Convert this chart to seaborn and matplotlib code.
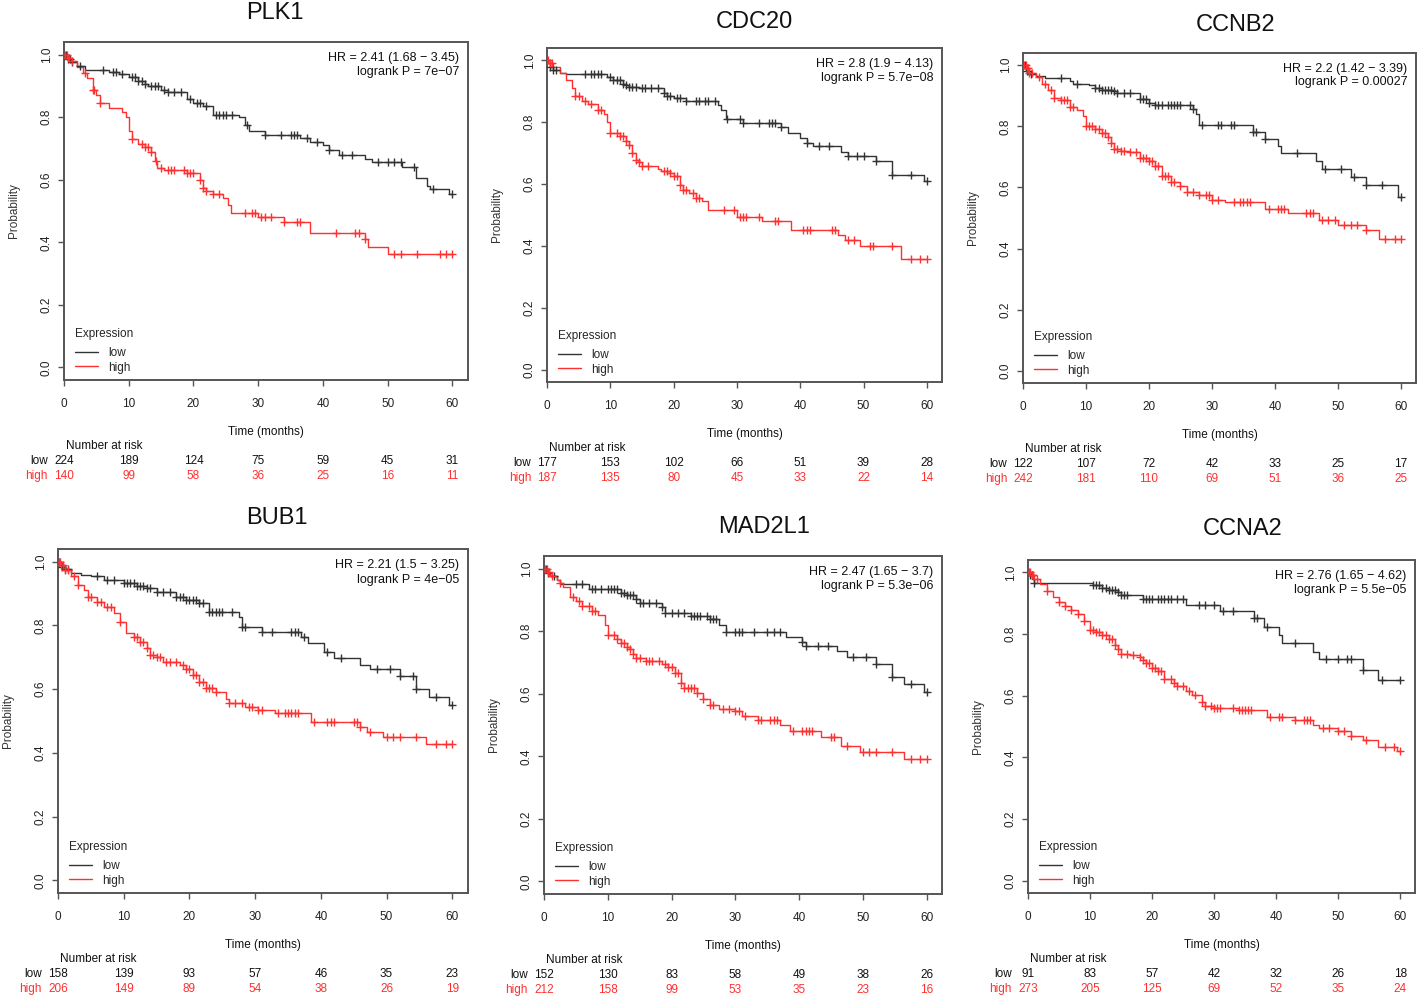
import numpy as np
import matplotlib
matplotlib.use("Agg")
import matplotlib.pyplot as plt
import seaborn as sns

# ---- data ----
genes = ["PLK1", "CDC20", "CCNB2", "BUB1", "MAD2L1", "CCNA2"]
hr_lines = ["HR = 2.41 (1.68 \u2212 3.45)", "HR = 2.8 (1.9 \u2212 4.13)", "HR = 2.2 (1.42 \u2212 3.39)",
            "HR = 2.21 (1.5 \u2212 3.25)", "HR = 2.47 (1.65 \u2212 3.7)", "HR = 2.76 (1.65 \u2212 4.62)"]
p_lines = ["logrank P = 7e\u221207", "logrank P = 5.7e\u221208", "logrank P = 0.00027",
           "logrank P = 4e\u221205", "logrank P = 5.3e\u221206", "logrank P = 5.5e\u221205"]
risk_times = [0, 10, 20, 30, 40, 50, 60]

# number at risk
plk1_risk_low = [224, 189, 124, 75, 59, 45, 31]
plk1_risk_high = [140, 99, 58, 36, 25, 16, 11]
cdc20_risk_low = [177, 153, 102, 66, 51, 39, 28]
cdc20_risk_high = [187, 135, 80, 45, 33, 22, 14]
ccnb2_risk_low = [122, 107, 72, 42, 33, 25, 17]
ccnb2_risk_high = [242, 181, 110, 69, 51, 36, 25]
bub1_risk_low = [158, 139, 93, 57, 46, 35, 23]
bub1_risk_high = [206, 149, 89, 54, 38, 26, 19]
mad2l1_risk_low = [152, 130, 83, 58, 49, 38, 26]
mad2l1_risk_high = [212, 158, 99, 53, 35, 23, 16]
ccna2_risk_low = [91, 83, 57, 42, 32, 26, 18]
ccna2_risk_high = [273, 205, 125, 69, 52, 35, 24]

# survival steps (time, probability after step) and censoring times
plk1_low_t = [0, 0.5, 1, 2, 3.3, 7, 8.5, 10, 11.5, 12.5, 13, 15, 16, 19, 20, 21.5, 23, 27, 28, 28.5, 31,
              36.5, 38, 40, 41, 42.5, 46.5, 47.5, 52.2, 54.3, 56, 56.5, 59.5]
plk1_low_s = [1.0, 0.985, 0.975, 0.962, 0.952, 0.945, 0.937, 0.929, 0.915, 0.905, 0.9, 0.888, 0.88, 0.858,
              0.845, 0.835, 0.808, 0.8, 0.776, 0.755, 0.744, 0.733, 0.72, 0.71, 0.696, 0.68, 0.666, 0.655,
              0.64, 0.605, 0.579, 0.57, 0.554]
plk1_low_c = [0.3, 0.6, 0.9, 1.3, 2.5, 6, 7.5, 8, 9, 10.5, 11, 11.5, 12, 12.5, 13.5, 14, 14.5, 15.5, 16, 17,
              18, 19.5, 20.5, 21, 22, 23.5, 24, 24.5, 25, 26, 28.3, 31, 33.5, 35, 35.5, 36, 37.5, 39, 41,
              43, 44.5, 48.5, 50, 51, 52, 54, 57, 60]
plk1_high_t = [0, 0.5, 1, 2, 3, 3.5, 4.5, 5, 5.5, 7, 9, 9.5, 10, 10.5, 11.5, 12.5, 13.5, 14, 14.3, 15.5, 19,
               21, 21.5, 22, 23, 24.5, 25.3, 25.8, 30, 34, 38, 46.5, 47, 50]
plk1_high_s = [1.0, 0.99, 0.98, 0.96, 0.94, 0.925, 0.888, 0.872, 0.845, 0.83, 0.815, 0.8, 0.755, 0.73, 0.715,
               0.705, 0.69, 0.66, 0.638, 0.63, 0.62, 0.6, 0.575, 0.565, 0.555, 0.54, 0.52, 0.495, 0.48,
               0.466, 0.43, 0.41, 0.385, 0.362]
plk1_high_c = [0.2, 0.4, 0.6, 0.8, 1.2, 3.2, 4.5, 4.7, 5.5, 10.5, 12, 12.5, 13, 13.5, 14.2, 15, 16, 16.5,
               17, 18.5, 19, 19.5, 20, 21, 21.5, 22, 23, 24, 28, 29, 29.5, 30.5, 31, 32, 34, 36, 36.5, 42,
               45, 45.5, 46.5, 51, 52, 54.5, 58, 59, 60]

cdc20_low_t = [0, 0.5, 1, 2, 3, 9.5, 10.5, 12, 12.5, 13, 14.5, 18.5, 19, 20, 22, 27, 27.5, 28.3, 31, 37,
               38, 40, 41, 42, 46.5, 47.5, 52, 54.5, 59.5]
cdc20_low_s = [1.0, 0.98, 0.97, 0.96, 0.955, 0.945, 0.935, 0.925, 0.919, 0.915, 0.91, 0.895, 0.885, 0.878,
               0.868, 0.855, 0.84, 0.812, 0.797, 0.785, 0.765, 0.75, 0.733, 0.722, 0.705, 0.69, 0.675,
               0.63, 0.609]
cdc20_low_c = [0.5, 1, 1.5, 6, 7, 7.5, 8, 8.5, 10, 10.5, 11, 11.5, 12, 12.5, 13, 13.5, 14, 15, 15.5, 16.5,
               17.5, 18.5, 19, 19.5, 20.5, 21, 22, 23.5, 24, 25, 25.5, 26.5, 28.5, 30.5, 31, 33.5, 35,
               35.5, 36, 37, 41, 43, 44.5, 47.5, 49, 50, 52, 54.5, 57.5, 60]
cdc20_high_t = [0, 0.5, 1, 2, 3, 4, 4.5, 5.5, 6.5, 8, 9, 9.5, 10, 11.5, 12.5, 13, 13.5, 14, 14.5, 15, 17.5,
                18, 19.5, 20, 21, 21.5, 22.5, 23.5, 24.5, 25.5, 30, 34, 38.5, 46, 47, 49.5, 56]
cdc20_high_s = [1.0, 0.99, 0.98, 0.96, 0.938, 0.91, 0.884, 0.87, 0.86, 0.841, 0.825, 0.8, 0.765, 0.755,
                0.74, 0.725, 0.7, 0.677, 0.67, 0.66, 0.65, 0.641, 0.635, 0.625, 0.598, 0.58, 0.57, 0.555,
                0.544, 0.515, 0.493, 0.48, 0.452, 0.435, 0.419, 0.4, 0.357]
cdc20_high_c = [0.2, 0.5, 0.8, 4.5, 5, 6, 7, 8, 8.5, 10, 11, 11.5, 12, 12.5, 13, 13.5, 14, 14.5, 15, 16,
                18.5, 19, 19.5, 20, 20.5, 21, 21.5, 22, 23, 23.5, 24, 28, 29.5, 30.5, 31, 31.5, 33.5, 36,
                36.5, 40.5, 41, 41.5, 45, 45.5, 47.5, 48.5, 51, 51.5, 54.5, 57.5, 59, 60]

ccnb2_low_t = [0, 0.5, 1, 2, 3.5, 7.5, 8, 10.5, 11.5, 12.5, 14.5, 15, 18.5, 20, 21, 27, 27.5, 28, 36.5,
               38.5, 40.5, 41, 46.5, 47.5, 52, 54.5, 59.5]
ccnb2_low_s = [1.0, 0.98, 0.97, 0.965, 0.958, 0.95, 0.94, 0.935, 0.925, 0.92, 0.915, 0.91, 0.891, 0.875,
               0.87, 0.856, 0.839, 0.804, 0.782, 0.76, 0.735, 0.714, 0.687, 0.662, 0.635, 0.607, 0.57]
ccnb2_low_c = [0.3, 0.7, 1.2, 6, 8.5, 11.5, 12, 12.5, 13, 13.5, 14, 14.5, 15, 16, 17, 18.5, 19, 19.5, 20,
               21, 21.5, 22, 23, 23.5, 24, 24.5, 25, 26.5, 27, 28.5, 31, 31.5, 33, 33.5, 36.5, 37, 38.5,
               43.5, 48, 50.5, 52.5, 54.5, 57, 60]
ccnb2_high_t = [0, 0.5, 1, 2, 3, 4, 5, 6, 7.5, 8.5, 9.5, 10, 11.5, 12.5, 13.5, 14, 14.5, 15.5, 17, 18.5,
                20, 21, 22, 23.5, 25, 26, 28, 30, 32, 38.5, 42, 47, 50, 54.5, 56.5]
ccnb2_high_s = [1.0, 0.99, 0.975, 0.96, 0.938, 0.92, 0.894, 0.885, 0.863, 0.855, 0.834, 0.8, 0.79, 0.779,
                0.765, 0.745, 0.725, 0.72, 0.715, 0.697, 0.686, 0.67, 0.637, 0.617, 0.604, 0.585, 0.575,
                0.558, 0.553, 0.53, 0.515, 0.493, 0.477, 0.462, 0.43]
ccnb2_high_c = [0.2, 0.4, 0.6, 0.8, 1, 1.5, 2.5, 3.5, 4.5, 5, 6, 6.5, 7, 7.5, 8, 10, 10.5, 11, 11.5, 12,
                12.5, 13, 13.5, 14, 14.5, 15, 15.5, 16, 17, 18, 18.5, 19, 19.5, 20, 20.5, 21, 21.5, 22,
                22.5, 23, 23.5, 24, 25, 26, 27, 28, 29, 29.5, 30, 31, 33.5, 34.5, 35, 35.5, 36, 39, 40.5,
                41, 41.5, 45, 45.5, 46, 47.5, 48.5, 49.5, 51, 52, 53, 54.5, 57.5, 59, 60]

bub1_low_t = [0, 0.5, 1, 2, 3.5, 5, 7, 10, 12, 13.5, 15, 18, 19.5, 21.5, 23, 27.5, 28, 31, 37, 38, 40.5,
              42, 46, 47.5, 52, 54.5, 56.5, 59.5]
bub1_low_s = [1.0, 0.985, 0.976, 0.965, 0.958, 0.955, 0.942, 0.934, 0.925, 0.916, 0.906, 0.89, 0.88,
              0.87, 0.843, 0.825, 0.794, 0.78, 0.765, 0.746, 0.718, 0.697, 0.675, 0.662, 0.64, 0.599,
              0.575, 0.55]
bub1_low_c = [0.2, 0.6, 1, 1.5, 6, 7.5, 8.5, 10, 10.5, 11, 11.5, 12, 12.5, 13, 13.5, 14, 15, 16, 17, 18,
              18.5, 19, 19.5, 20, 20.5, 21, 21.5, 22, 23, 23.5, 24, 24.5, 25, 26.5, 28, 28.5, 31, 32.5,
              35.5, 36, 36.5, 37.5, 41, 43, 48.5, 50.5, 52, 54, 54.5, 57.5, 60]
bub1_high_t = [0, 0.5, 1, 2, 3, 4, 4.5, 6, 7, 8.5, 9.5, 10.3, 11.5, 12.5, 13.5, 14, 15, 16, 18.5, 19.5,
               20.5, 21.5, 22.5, 24, 25.5, 26, 28.5, 30.5, 33, 38.5, 46, 47, 49.5, 56]
bub1_high_s = [1.0, 0.99, 0.975, 0.955, 0.927, 0.91, 0.89, 0.875, 0.859, 0.838, 0.812, 0.777, 0.765,
               0.749, 0.73, 0.707, 0.7, 0.686, 0.675, 0.662, 0.645, 0.623, 0.605, 0.59, 0.57, 0.556,
               0.543, 0.535, 0.524, 0.498, 0.48, 0.464, 0.449, 0.428]
bub1_high_c = [0.1, 0.3, 0.5, 0.7, 1, 1.5, 2.5, 3, 4.5, 5, 6, 6.5, 7.5, 8, 9.5, 11.5, 12, 12.5, 13, 13.5,
               14, 14.5, 15, 15.5, 16.5, 17, 18, 19, 19.5, 20, 20.5, 21, 21.5, 22, 22.5, 23, 23.5, 24, 26,
               27, 28, 29, 29.5, 30.5, 31, 33.5, 34.5, 35, 35.5, 36, 36.5, 39, 41, 41.5, 42, 45, 45.5, 46,
               47.5, 50, 51, 52, 54.5, 57.5, 59, 60]

mad2l1_low_t = [0, 0.5, 1, 2, 2.5, 7, 12, 13, 14.5, 15, 18.5, 19, 23, 26, 27.5, 28.5, 38, 40.5, 41, 46,
                47.5, 52, 54.5, 56.5, 59.5]
mad2l1_low_s = [1.0, 0.985, 0.975, 0.963, 0.952, 0.936, 0.922, 0.915, 0.904, 0.889, 0.878, 0.859, 0.848,
                0.838, 0.82, 0.798, 0.782, 0.765, 0.753, 0.735, 0.717, 0.695, 0.652, 0.632, 0.604]
mad2l1_low_c = [0.3, 0.7, 1.5, 5, 6, 7.5, 8, 9, 10, 10.5, 11, 11.5, 12, 12.5, 13, 13.5, 14, 14.5, 15, 15.5,
                16.5, 17.5, 18.5, 19, 20, 21, 22, 23, 23.5, 24, 24.5, 25.5, 26, 26.5, 27, 28.5, 30, 30.5,
                31, 33, 35, 36, 37, 40.5, 41, 43, 44.5, 48.5, 50.5, 52, 54.5, 57.5, 60]
mad2l1_high_t = [0, 0.5, 1, 2, 2.5, 3, 4, 5, 6, 7.5, 8.5, 9.5, 10, 11.5, 12, 13, 13.5, 14, 14.5, 16, 18.5,
                 19.5, 20.5, 21.5, 22, 24, 25, 26, 27.5, 30, 31, 33.5, 37, 38.5, 43.5, 46.5, 49.5, 56.5]
mad2l1_high_s = [1.0, 0.99, 0.975, 0.963, 0.955, 0.94, 0.91, 0.895, 0.88, 0.865, 0.851, 0.82, 0.788,
                 0.775, 0.763, 0.75, 0.742, 0.728, 0.714, 0.705, 0.695, 0.685, 0.666, 0.634, 0.618, 0.602,
                 0.583, 0.565, 0.551, 0.544, 0.528, 0.517, 0.499, 0.48, 0.462, 0.432, 0.413, 0.392]
mad2l1_high_c = [0.2, 0.4, 0.6, 0.8, 1.2, 2.5, 4.5, 5.5, 6, 7, 7.5, 8, 10, 11, 11.5, 12, 12.5, 13, 13.5,
                 14, 14.5, 15, 16, 16.5, 17, 18, 19, 19.5, 20, 20.5, 21, 21.5, 22, 22.5, 23, 23.5, 24, 25,
                 26, 26.5, 28, 29, 30, 30.5, 31.5, 33.5, 34, 35.5, 36, 36.5, 39, 40.5, 41, 41.5, 42, 45,
                 45.5, 47.5, 50, 51, 52, 54.5, 57.5, 59, 60]

ccna2_low_t = [0, 0.3, 0.7, 1, 10.5, 12, 13, 14.5, 15, 18.5, 25.5, 31, 36.5, 38, 40.5, 41, 46, 47, 54, 56.5]
ccna2_low_s = [1.0, 0.99, 0.98, 0.966, 0.959, 0.95, 0.944, 0.935, 0.926, 0.913, 0.894, 0.875, 0.851,
               0.824, 0.797, 0.772, 0.743, 0.718, 0.684, 0.651]
ccna2_low_c = [0.3, 0.6, 1, 10.5, 11, 11.5, 12, 12.5, 13, 13.5, 14, 14.5, 15, 15.5, 16, 18.5, 19, 19.5,
               20, 21, 21.5, 22, 22.5, 23, 24, 25, 27.5, 28.5, 30, 31.5, 33, 36.5, 37, 38.5, 43, 48, 50,
               51.5, 52, 54, 57, 60]
ccna2_high_t = [0, 0.5, 1, 2, 3, 4, 5, 6, 7, 8, 9, 10, 11, 12, 13, 14, 14.5, 15, 16.5, 18, 18.5, 19, 20,
                21, 22, 23.5, 24, 25.5, 26.5, 28, 28.5, 30, 34, 38.5, 43, 46, 47, 50, 52, 54, 56.5, 59.5]
ccna2_high_s = [1.0, 0.99, 0.98, 0.962, 0.94, 0.921, 0.905, 0.89, 0.878, 0.865, 0.843, 0.813, 0.805,
                0.797, 0.785, 0.765, 0.75, 0.735, 0.732, 0.727, 0.715, 0.707, 0.69, 0.68, 0.654, 0.64,
                0.63, 0.615, 0.603, 0.581, 0.568, 0.559, 0.552, 0.532, 0.522, 0.505, 0.494, 0.484, 0.468,
                0.455, 0.435, 0.419]
ccna2_high_c = [0.2, 0.4, 0.6, 0.8, 1.5, 3, 5, 6, 7, 8, 9, 10, 10.5, 11, 11.5, 12, 12.5, 13, 13.5, 14,
                14.5, 15, 16, 17, 18, 18.5, 19, 19.5, 20, 20.5, 21, 21.5, 22, 23, 23.5, 24, 25, 26, 27,
                28, 28.5, 29.5, 30, 30.5, 31, 33, 34, 34.5, 35, 35.5, 36, 39, 40.5, 41, 43, 44.5, 45,
                45.5, 47.5, 48.5, 50, 51, 52, 54.5, 57.5, 59, 60]

curves = [
    (plk1_low_t, plk1_low_s, plk1_low_c, plk1_high_t, plk1_high_s, plk1_high_c, plk1_risk_low, plk1_risk_high),
    (cdc20_low_t, cdc20_low_s, cdc20_low_c, cdc20_high_t, cdc20_high_s, cdc20_high_c, cdc20_risk_low, cdc20_risk_high),
    (ccnb2_low_t, ccnb2_low_s, ccnb2_low_c, ccnb2_high_t, ccnb2_high_s, ccnb2_high_c, ccnb2_risk_low, ccnb2_risk_high),
    (bub1_low_t, bub1_low_s, bub1_low_c, bub1_high_t, bub1_high_s, bub1_high_c, bub1_risk_low, bub1_risk_high),
    (mad2l1_low_t, mad2l1_low_s, mad2l1_low_c, mad2l1_high_t, mad2l1_high_s, mad2l1_high_c, mad2l1_risk_low, mad2l1_risk_high),
    (ccna2_low_t, ccna2_low_s, ccna2_low_c, ccna2_high_t, ccna2_high_s, ccna2_high_c, ccna2_risk_low, ccna2_risk_high),
]

# ---- layout (pixel boxes of each panel: left, top, right, bottom; title centre) ----
W, H = 1417, 998
boxes = [(64, 42, 468, 380), (547, 48, 942, 382), (1023, 53, 1416, 383),
         (58, 549, 468, 893), (544, 556, 942, 894), (1028, 560, 1415, 893)]
title_pos = [(275, 13), (754, 22), (1236, 25), (277, 518), (764, 527), (1243, 529)]

LOW_COL = "#333333"
HIGH_COL = "#ff3030"
FRAME = "#555555"

sns.set_theme(style="ticks")
plt.rcParams["font.family"] = ["Liberation Sans", "DejaVu Sans"]
plt.rcParams["axes.edgecolor"] = FRAME


def step_value(t, s, c):
    idx = np.searchsorted(np.asarray(t), np.asarray(c), side="right") - 1
    return np.asarray(s)[idx]


fig = plt.figure(figsize=(W / 100, H / 100), dpi=100)

for i, gene in enumerate(genes):
    lo_t, lo_s, lo_c, hi_t, hi_s, hi_c, r_lo, r_hi = curves[i]
    L, T, R, B = boxes[i]
    ax = fig.add_axes([L / W, 1 - B / H, (R - L) / W, (B - T) / H])

    for t, s, c, col, lab in [(lo_t, lo_s, lo_c, LOW_COL, "low"), (hi_t, hi_s, hi_c, HIGH_COL, "high")]:
        xs = list(t) + [max(c)]
        ys = list(s) + [s[-1]]
        sns.lineplot(x=xs, y=ys, ax=ax, color=col, linewidth=1.0, drawstyle="steps-post",
                     label=lab, sort=False, estimator=None)
        sns.scatterplot(x=c, y=step_value(t, s, c), ax=ax, marker="+", s=38, color=col,
                        linewidth=1.0, legend=False, zorder=3)

    ax.set_xlim(0, 62.4)
    ax.set_ylim(-0.04, 1.04)
    ax.set_xticks(risk_times)
    ax.set_yticks([0, 0.2, 0.4, 0.6, 0.8, 1.0])
    ax.set_yticklabels(["0.0", "0.2", "0.4", "0.6", "0.8", "1.0"])
    ax.tick_params(axis="both", direction="out", length=4, width=1, color=FRAME,
                   labelsize=8.5, labelcolor="#222222")
    ax.tick_params(axis="x", pad=9)
    ax.tick_params(axis="y", pad=4)
    for lbl in ax.get_yticklabels():
        lbl.set_rotation(90)
        lbl.set_va("center")
    for sp in ax.spines.values():
        sp.set_visible(True)
        sp.set_linewidth(1.4)
        sp.set_color(FRAME)
    ax.set_xlabel("")
    ax.set_ylabel("")

    ax.text(0.978, 0.953, hr_lines[i], transform=ax.transAxes, ha="right", va="center",
            fontsize=9, color="#111111")
    ax.text(0.978, 0.911, p_lines[i], transform=ax.transAxes, ha="right", va="center",
            fontsize=9, color="#111111")

    leg = ax.legend(title="Expression", loc="lower left", bbox_to_anchor=(0.012, 0.0),
                    frameon=False, fontsize=8.5, title_fontsize=8.5, handlelength=1.9,
                    handletextpad=0.9, labelspacing=0.2, borderaxespad=0.35, borderpad=0.2,
                    alignment="left")
    leg._legend_box.sep = 5.5

    # axis labels
    ax.annotate("Probability", xy=(0, 0.5), xycoords="axes fraction", xytext=(-50, 0),
                textcoords="offset pixels", rotation=90, ha="center", va="center",
                fontsize=8.5, color="#333333")
    ax.annotate("Time (months)", xy=(0.5, 0), xycoords="axes fraction", xytext=(0, -52),
                textcoords="offset pixels", ha="center", va="center", fontsize=8.5, color="#111111")

    # number at risk table
    ax.annotate("Number at risk", xy=(0, 0), xycoords=("data", "axes fraction"), xytext=(40, -66),
                textcoords="offset pixels", ha="center", va="center", fontsize=8.5, color="#111111")
    ax.annotate("low", xy=(0, 0), xycoords=("data", "axes fraction"), xytext=(-16, -81),
                textcoords="offset pixels", ha="right", va="center", fontsize=8.5, color="#111111")
    ax.annotate("high", xy=(0, 0), xycoords=("data", "axes fraction"), xytext=(-16, -96),
                textcoords="offset pixels", ha="right", va="center", fontsize=8.5, color=HIGH_COL)
    for tm, nl, nh in zip(risk_times, r_lo, r_hi):
        ax.annotate(str(nl), xy=(tm, 0), xycoords=("data", "axes fraction"), xytext=(0, -81),
                    textcoords="offset pixels", ha="center", va="center", fontsize=8.5, color="#111111")
        ax.annotate(str(nh), xy=(tm, 0), xycoords=("data", "axes fraction"), xytext=(0, -96),
                    textcoords="offset pixels", ha="center", va="center", fontsize=8.5, color=HIGH_COL)

    tx, ty = title_pos[i]
    fig.text(tx / W, 1 - ty / H, gene, ha="center", va="center", fontsize=17, color="#111111")

fig.savefig("out.png", dpi=100)
